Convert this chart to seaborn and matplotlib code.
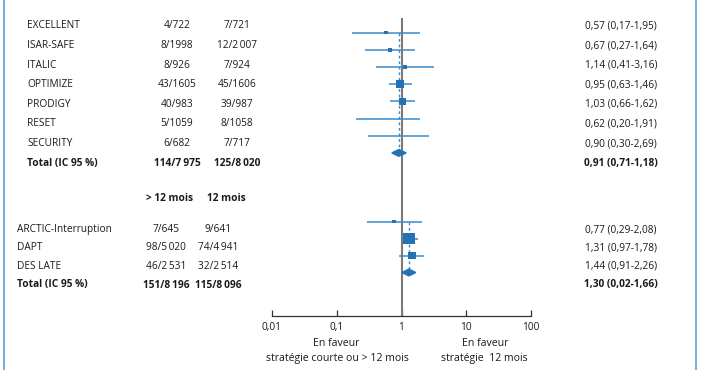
import numpy as np
import pandas as pd
import seaborn as sns
import matplotlib.pyplot as plt
from matplotlib.patches import Polygon

# --- data ---
top_names = ["EXCELLENT", "ISAR-SAFE", "ITALIC", "OPTIMIZE", "PRODIGY", "RESET", "SECURITY"]
top_n1 = ["4/722", "8/1998", "8/926", "43/1605", "40/983", "5/1059", "6/682"]
top_n2 = ["7/721", "12/2\u2009007", "7/924", "45/1606", "39/987", "8/1058", "7/717"]
top_rr = [0.57, 0.67, 1.14, 0.95, 1.03, 0.62, 0.90]
top_lo = [0.17, 0.27, 0.41, 0.63, 0.66, 0.20, 0.30]
top_hi = [1.95, 1.64, 3.16, 1.46, 1.62, 1.91, 2.69]
top_w = [3, 3.5, 3, 7, 6, 0, 0]
top_total = (0.91, 0.71, 1.18)
top_total_n = ("114/7\u2009975", "125/8\u2009020")

bot_names = ["ARCTIC-Interruption", "DAPT", "DES LATE"]
bot_n1 = ["7/645", "98/5\u2009020", "46/2\u2009531"]
bot_n2 = ["9/641", "74/4\u2009941", "32/2\u2009514"]
bot_rr = [0.77, 1.31, 1.44]
bot_lo = [0.29, 0.97, 0.91]
bot_hi = [2.08, 1.78, 2.26]
bot_w = [3, 9, 6]
bot_total = (1.30, 1.02, 1.66)
bot_total_n = ("151/8\u2009196", "115/8\u2009096")
bot_total_label = "1,30 (0,02-1,66)"
bot_headers = ["> 12 mois", "12 mois"]

xticks = [0.01, 0.1, 1, 10, 100]
xtick_labels = ["0,01", "0,1", "1", "10", "100"]


def fmt(v):
    return f"{v:.2f}".replace(".", ",")


sns.set_theme(style="white")
plt.rcParams["font.family"] = ["Open Sans", "DejaVu Sans"]
FS = 7.3
TXT = "#1a1a1a"
BLUE = "#2272b5"
LBLUE = "#3b8bcb"

fig = plt.figure(figsize=(7.02, 3.70), dpi=100)
tax = fig.add_axes([0, 0, 1, 1])
tax.set_xlim(0, 702)
tax.set_ylim(370, 0)
tax.axis("off")

fax = fig.add_axes([272 / 702, 0, 259 / 702, 1])
fax.set_xscale("log")
fax.set_xlim(0.01, 100)
fax.set_ylim(370, 0)
fax.patch.set_visible(False)

# frame lines
tax.axvline(4, color="#6fa3d8", lw=1.3)
tax.axvline(696, color="#6fa3d8", lw=1.3)


def text_rows(y0, step, n):
    return [y0 + i * step for i in range(n)]


def draw_group(names, n1, n2, rr, lo, hi, w, total, total_n, total_label,
               ty, my, name_x, c1, c2):
    k = len(names)
    for i in range(k):
        tax.text(name_x, ty[i], names[i], fontsize=FS, color=TXT, va="center")
        tax.text(c1, ty[i], n1[i], fontsize=FS, color=TXT, va="center", ha="center")
        tax.text(c2, ty[i], n2[i], fontsize=FS, color=TXT, va="center", ha="center")
        tax.text(621, ty[i], f"{fmt(rr[i])} ({fmt(lo[i])}-{fmt(hi[i])})",
                 fontsize=FS, color=TXT, va="center", ha="center")
    tax.text(name_x, ty[k], "Total (IC 95 %)", fontsize=FS, color=TXT, va="center",
             fontweight="bold")
    tax.text(c1, ty[k], total_n[0], fontsize=FS, color=TXT, va="center", ha="center",
             fontweight="bold")
    tax.text(c2, ty[k], total_n[1], fontsize=FS, color=TXT, va="center", ha="center",
             fontweight="bold")
    tax.text(621, ty[k], total_label, fontsize=FS, color=TXT, va="center", ha="center",
             fontweight="bold")

    # CI lines
    fax.hlines(my[:k], lo, hi, color=LBLUE, lw=1.1, zorder=3)
    df = pd.DataFrame({"rr": rr, "y": my[:k], "w": w})
    df = df[df["w"] > 0]
    area = ((df["w"] * 1.25 / 100 * 72) ** 2).tolist()
    sns.scatterplot(data=df, x="rr", y="y", marker="s", color=BLUE, s=area,
                    linewidth=0, legend=False, ax=fax, zorder=4)
    # pooled dashed line and diamond
    fax.vlines(total[0], my[0], my[k], color=LBLUE, lw=1.0, linestyles=(0, (2, 2)),
               zorder=2)
    yd = my[k]
    dia = Polygon([(total[1], yd), (total[0], yd - 3.4), (total[2], yd), (total[0], yd + 3.4)],
                  closed=True, color=BLUE, zorder=4)
    fax.add_patch(dia)


top_ty = text_rows(26, 19.6, 8)
top_my = text_rows(32.5, 17.2, 8)
draw_group(top_names, top_n1, top_n2, top_rr, top_lo, top_hi, top_w, top_total,
           top_total_n, f"{fmt(top_total[0])} ({fmt(top_total[1])}-{fmt(top_total[2])})",
           top_ty, top_my, 27, 177, 237)

bot_ty = text_rows(229.5, 18.5, 4)
bot_my = text_rows(221.5, 17.0, 4)
draw_group(bot_names, bot_n1, bot_n2, bot_rr, bot_lo, bot_hi, bot_w, bot_total,
           bot_total_n, bot_total_label, bot_ty, bot_my, 17, 166, 218)
tax.text(170, 198.5, bot_headers[0], fontsize=FS, color=TXT, va="center", ha="center",
         fontweight="bold")
tax.text(226, 198.5, bot_headers[1], fontsize=FS, color=TXT, va="center", ha="center",
         fontweight="bold")

# line of no effect
fax.vlines(1, 18, 316, color="#7a7a7a", lw=1.5, zorder=1)

# x axis
for s in ["top", "left", "right"]:
    fax.spines[s].set_visible(False)
fax.spines["bottom"].set_position(("data", 316))
fax.spines["bottom"].set_color("#333333")
fax.spines["bottom"].set_linewidth(0.9)
fax.set_xticks(xticks)
fax.set_xticklabels(xtick_labels, fontsize=FS, color=TXT)
fax.minorticks_off()
fax.set_yticks([])
fax.set_xlabel("")
fax.set_ylabel("")
fax.tick_params(axis="x", direction="in", length=4, width=0.9, color="#333333",
                pad=4, bottom=True)

tax.text(336, 344, "En faveur", fontsize=FS + 0.3, color=TXT, ha="center", va="center")
tax.text(337, 359, "stratégie courte ou > 12 mois", fontsize=FS + 0.3, color=TXT,
         ha="center", va="center")
tax.text(485, 344, "En faveur", fontsize=FS + 0.3, color=TXT, ha="center", va="center")
tax.text(484, 359, "stratégie  12 mois", fontsize=FS + 0.3, color=TXT, ha="center",
         va="center")

fig.savefig("out.png", dpi=100)
